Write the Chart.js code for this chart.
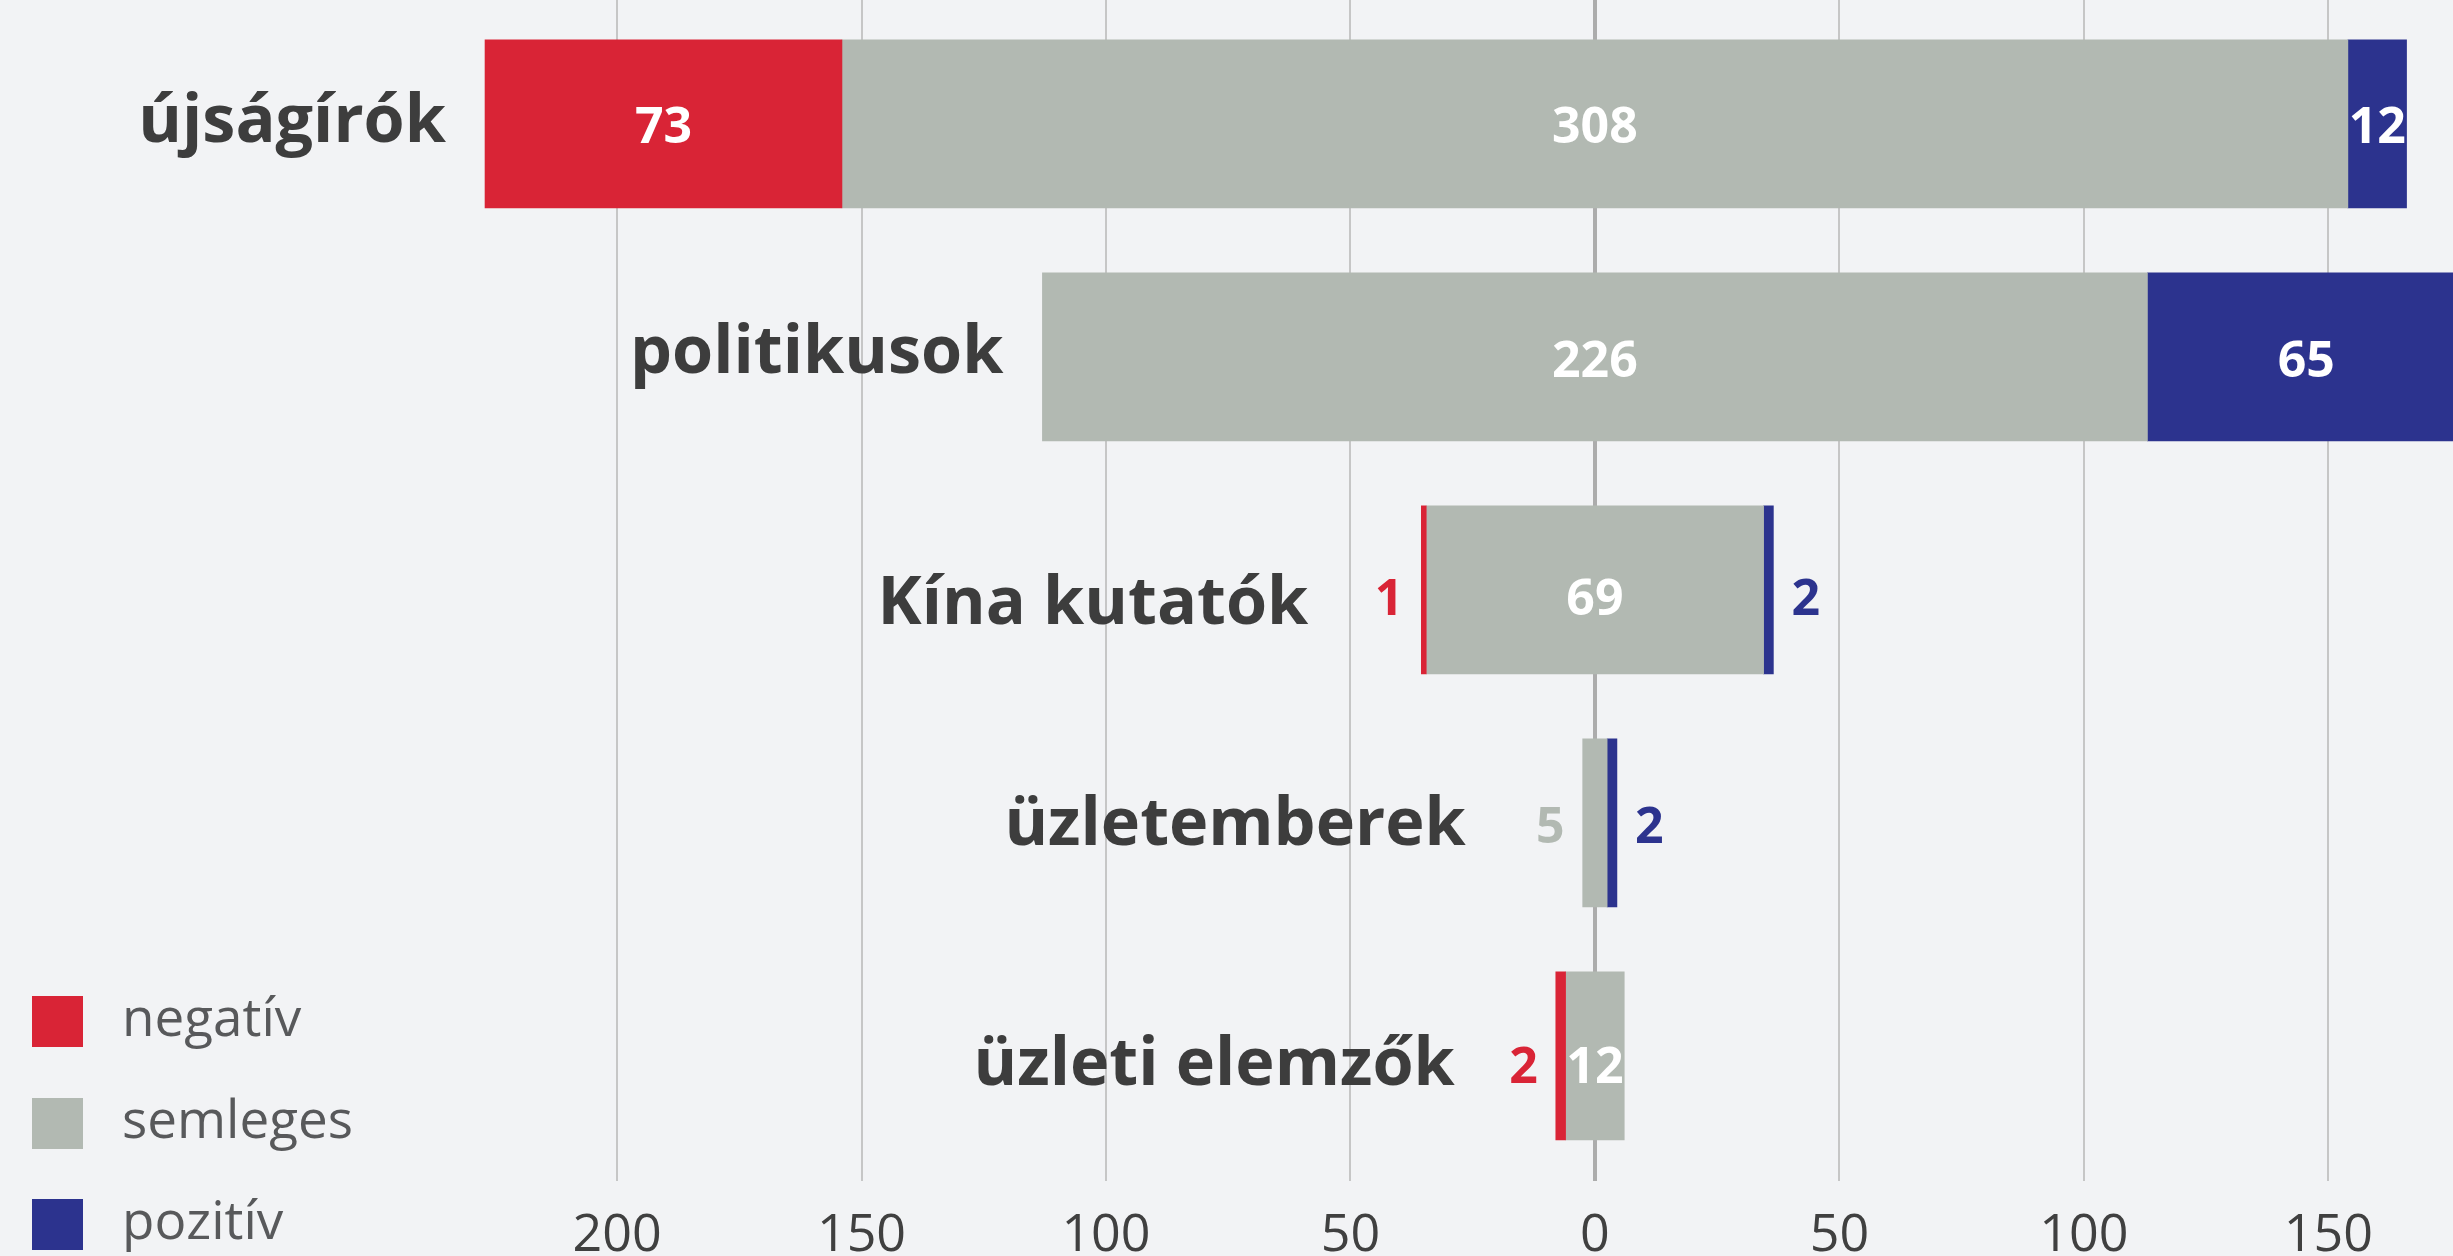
<!DOCTYPE html>
<html><head><meta charset="utf-8">
<script src="https://cdn.jsdelivr.net/npm/chart.js@4.4.1/dist/chart.umd.min.js"></script>
<style>
html,body{margin:0;padding:0;background:#f2f3f5;}
#wrap{width:2453px;height:1256px;position:relative;}
</style>
</head><body>
<div id="wrap"><canvas id="c"></canvas></div>
<script>
// ---- data ----
const categories = ['újságírók', 'politikusok', 'Kína kutatók', 'üzletemberek', 'üzleti elemzők'];
const negativ  = [73, 0, 1, 0, 2];
const semleges = [308, 226, 69, 5, 12];
const pozitiv  = [12, 65, 2, 2, 0];
const seriesNames = ['negatív', 'semleges', 'pozitív'];
const tickValues = [-200, -150, -100, -50, 0, 50, 100, 150];

// ---- styles / label placement (px) ----
const COLORS = ['#d92436', '#b2b9b2', '#2c338e'];
const FONT = '"Open Sans", "Noto Sans", sans-serif';
const CAT_GAP = [39, 39, 113, 117, 101];        // gap from leftmost bar edge to category label
const CAT_DY  = [17.7, 16.3, 34, 22, 29];       // baseline offset from bar centre
const VAL_DY  = [19.3, 20.3, 25, 19.7, 26.7];   // value-label baseline offset from bar centre

const negData = categories.map((c, i) => ({ x: negativ[i] > 0 ? [-(semleges[i] / 2 + negativ[i]), -semleges[i] / 2] : null, y: i }));
const neuData = categories.map((c, i) => ({ x: semleges[i] > 0 ? [-semleges[i] / 2, semleges[i] / 2] : null, y: i }));
const posData = categories.map((c, i) => ({ x: pozitiv[i] > 0 ? [semleges[i] / 2, semleges[i] / 2 + pozitiv[i]] : null, y: i }));

const labelPlugin = {
  id: 'barLabels',
  afterDatasetsDraw(chart) {
    const ctx = chart.ctx;
    const vals = [negativ, semleges, pozitiv];
    categories.forEach((cat, i) => {
      const vis = [0, 1, 2].filter(d => vals[d][i] > 0).map(d => {
        const el = chart.getDatasetMeta(d).data[i];
        return { d, v: vals[d][i], l: Math.min(el.x, el.base), r: Math.max(el.x, el.base), y: el.y };
      });
      const leftEdge = Math.min(...vis.map(s => s.l));
      const rightEdge = Math.max(...vis.map(s => s.r));
      const y = vis[0].y;
      ctx.save();
      ctx.font = 'bold 50px ' + FONT;
      ctx.textBaseline = 'alphabetic';
      vis.forEach(s => {
        const txt = String(s.v);
        const tw = ctx.measureText(txt).width;
        const w = s.r - s.l;
        if (w >= tw - 2) {
          ctx.fillStyle = '#ffffff';
          ctx.textAlign = 'center';
          ctx.fillText(txt, (s.l + s.r) / 2, y + VAL_DY[i]);
        } else if (s.d === 2) {
          ctx.fillStyle = COLORS[2];
          ctx.textAlign = 'left';
          ctx.fillText(txt, rightEdge + 18, y + VAL_DY[i]);
        } else {
          ctx.fillStyle = COLORS[s.d];
          ctx.textAlign = 'right';
          ctx.fillText(txt, leftEdge - 18, y + VAL_DY[i]);
        }
      });
      ctx.font = 'bold 66.5px ' + FONT;
      ctx.fillStyle = '#3d3d3d';
      ctx.textAlign = 'right';
      ctx.fillText(cat, leftEdge - CAT_GAP[i], y + CAT_DY[i]);
      ctx.restore();
    });
  }
};

const legendPlugin = {
  id: 'sideLegend',
  afterDraw(chart) {
    const ctx = chart.ctx;
    const tops = [996, 1098, 1199];
    ctx.save();
    ctx.font = '53px ' + FONT;
    ctx.textAlign = 'left';
    ctx.textBaseline = 'alphabetic';
    seriesNames.forEach((name, k) => {
      ctx.fillStyle = COLORS[k];
      ctx.fillRect(32, tops[k], 51, 51);
      ctx.fillStyle = '#58595b';
      ctx.fillText(name, 122, tops[k] + 25.5 + 14);
    });
    ctx.restore();
  }
};

function build() {
  new Chart(document.getElementById('c'), {
    type: 'bar',
    data: {
      datasets: [
        { label: seriesNames[0], data: negData, backgroundColor: COLORS[0] },
        { label: seriesNames[1], data: neuData, backgroundColor: COLORS[1] },
        { label: seriesNames[2], data: posData, backgroundColor: COLORS[2] }
      ]
    },
    options: {
      indexAxis: 'y',
      responsive: true,
      maintainAspectRatio: false,
      animation: false,
      layout: { padding: 0 },
      datasets: { bar: { grouped: false, barThickness: 168, borderWidth: 0 } },
      plugins: { legend: { display: false }, tooltip: { enabled: false } },
      scales: {
        x: {
          type: 'linear',
          min: -326.2,
          max: 175.5,
          afterBuildTicks: s => { s.ticks = tickValues.map(v => ({ value: v })); },
          afterFit: s => { s.height = 75; },
          border: { display: false },
          grid: {
            drawTicks: false,
            color: c => (c.tick && c.tick.value === 0) ? '#acacac' : '#c6c6c6',
            lineWidth: c => (c.tick && c.tick.value === 0) ? 4 : 2
          },
          ticks: {
            padding: 24,
            color: '#404040',
            font: { family: FONT, size: 52 },
            callback: v => String(Math.abs(v))
          }
        },
        y: {
          type: 'linear',
          display: false,
          offset: false,
          reverse: true,
          min: -0.532,
          max: 4.537,
          grid: { offset: false }
        }
      }
    },
    plugins: [labelPlugin, legendPlugin]
  });
}

Promise.all([
  document.fonts.load('bold 66.5px "Open Sans"'),
  document.fonts.load('bold 50px "Open Sans"'),
  document.fonts.load('53px "Open Sans"')
]).then(build, build);
</script>
</body></html>
